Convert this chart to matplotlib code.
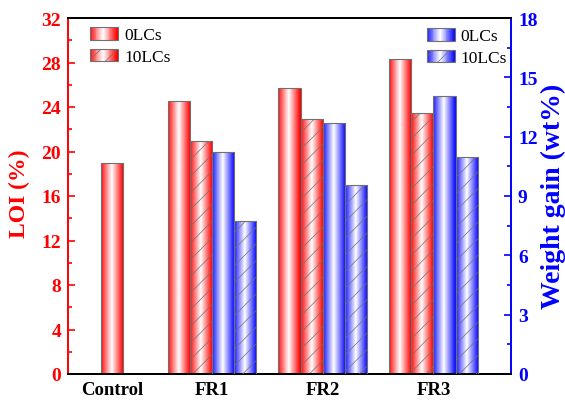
import numpy as np
import matplotlib.pyplot as plt
from matplotlib.colors import LinearSegmentedColormap
from matplotlib.legend_handler import HandlerBase
from matplotlib.patches import Rectangle
from matplotlib.ticker import MultipleLocator

plt.rcParams['font.family'] = ['Liberation Serif', 'DejaVu Serif']
plt.rcParams['hatch.linewidth'] = 0.5

# data
categories = ['Control', 'FR1', 'FR2', 'FR3']
loi_0lc = [19.0, 24.55, 25.7, 28.3]
loi_10lc = [None, 20.95, 22.95, 23.45]
wg_0lc = [None, 11.25, 12.7, 14.05]
wg_10lc = [None, 7.75, 9.55, 10.95]

RED = (1.0, 0.0, 0.0)
BLUE = (0.05, 0.05, 1.0)
red_cmap = LinearSegmentedColormap.from_list('r', ['white', RED])
blue_cmap = LinearSegmentedColormap.from_list('b', ['white', BLUE])
EDGE = '#707070'


def profile(t):
    return np.clip(np.abs(t - 0.47) / 0.5, 0, 1) ** 1.0


grad = profile(np.linspace(0, 1, 64))[None, :]


def grad_bar(ax, x, h, w, cmap, hatch=None):
    bar = ax.bar(x, h, w, facecolor='none', edgecolor=EDGE, linewidth=0.8,
                 hatch=hatch, zorder=3)[0]
    im = ax.imshow(grad, cmap=cmap, vmin=0, vmax=1, aspect='auto',
                   extent=[x - w / 2, x + w / 2, 0, h], zorder=2,
                   interpolation='bilinear')
    im.set_clip_path(bar)


class GradHandler(HandlerBase):
    def __init__(self, cmap, hatch=None):
        super().__init__()
        self.cmap = cmap
        self.hatch = hatch

    def create_artists(self, legend, orig_handle, xdescent, ydescent,
                       width, height, fontsize, trans):
        arts = []
        n = 30
        for k in range(n):
            t = (k + 0.5) / n
            r = Rectangle((-xdescent + k * width / n, -ydescent), width / n * 1.05, height,
                          facecolor=self.cmap(profile(t)), linewidth=0, transform=trans)
            arts.append(r)
        arts.append(Rectangle((-xdescent, -ydescent), width, height, facecolor='none',
                              edgecolor=EDGE, linewidth=0.8, hatch=self.hatch,
                              transform=trans))
        return arts


fig = plt.figure(figsize=(5.65, 4.02), dpi=100)
ax = fig.add_axes([68 / 565, 27 / 402, 443 / 565, 356 / 402])
ax2 = ax.twinx()

xpos = [0.4, 1.3, 2.3, 3.3]
w = 0.2
for i, c in enumerate(categories):
    if i == 0:
        grad_bar(ax, xpos[i], loi_0lc[i], w, red_cmap)
        continue
    grad_bar(ax, xpos[i] - 1.5 * w, loi_0lc[i], w, red_cmap)
    grad_bar(ax, xpos[i] - 0.5 * w, loi_10lc[i], w, red_cmap, '//')
    grad_bar(ax2, xpos[i] + 0.5 * w, wg_0lc[i], w, blue_cmap)
    grad_bar(ax2, xpos[i] + 1.5 * w, wg_10lc[i], w, blue_cmap, '//')

ax.set_xlim(0, 4)
ax.set_ylim(0, 32)
ax2.set_ylim(0, 18)
ax.set_xticks(xpos)
ax.set_xticklabels(categories, fontsize=13.5, fontweight='bold')
ax.tick_params(axis='x', length=0, pad=5)

ax.yaxis.set_major_locator(MultipleLocator(4))
ax.yaxis.set_minor_locator(MultipleLocator(2))
ax2.yaxis.set_major_locator(MultipleLocator(3))
ax2.yaxis.set_minor_locator(MultipleLocator(1.5))
ax.tick_params(axis='y', which='both', direction='in', colors='red', width=1.2,
               labelsize=14, pad=5)
ax.tick_params(axis='y', which='major', length=5)
ax.tick_params(axis='y', which='minor', length=3)
ax2.tick_params(axis='y', which='both', direction='in', colors='blue', width=1.2,
                labelsize=14, pad=5)
ax2.tick_params(axis='y', which='major', length=5)
ax2.tick_params(axis='y', which='minor', length=3)
for lab in ax.get_yticklabels() + ax2.get_yticklabels():
    lab.set_fontweight('bold')

for a in (ax, ax2):
    for s in a.spines.values():
        s.set_linewidth(1.4)
ax.spines['left'].set_color('red')
ax.spines['right'].set_visible(False)
ax2.spines['left'].set_visible(False)
ax2.spines['right'].set_color('blue')
ax2.spines['top'].set_color('black')
ax2.spines['bottom'].set_color('black')

fig.text(19 / 565, 1 - 194 / 402, 'LOI (%)', rotation=90, ha='center', va='center',
         color='red', fontsize=17, fontweight='bold')
fig.text(553 / 565, 1 - 196 / 402, 'Weight gain (wt%)', rotation=90, ha='center',
         va='center', color='blue', fontsize=20, fontweight='bold')

h1, h2 = Rectangle((0, 0), 1, 1), Rectangle((0, 0), 1, 1)
h3, h4 = Rectangle((0, 0), 1, 1), Rectangle((0, 0), 1, 1)
ax.legend([h1, h2], ['0LCs', '10LCs'],
          handler_map={h1: GradHandler(red_cmap), h2: GradHandler(red_cmap, '//')},
          loc='upper left', bbox_to_anchor=(90 / 565, 1 - 28 / 402),
          bbox_transform=fig.transFigure, frameon=False, fontsize=12.5,
          borderpad=0, borderaxespad=0, handlelength=1.6, handleheight=0.75,
          handletextpad=0.4, labelspacing=0.3)
ax2.legend([h3, h4], ['0LCs', '10LCs'],
           handler_map={h3: GradHandler(blue_cmap), h4: GradHandler(blue_cmap, '//')},
           loc='upper left', bbox_to_anchor=(427 / 565, 1 - 29 / 402),
           bbox_transform=fig.transFigure, frameon=False, fontsize=12.5,
           borderpad=0, borderaxespad=0, handlelength=1.6, handleheight=0.75,
           handletextpad=0.3, labelspacing=0.3)

fig.savefig('out.png', dpi=100)
